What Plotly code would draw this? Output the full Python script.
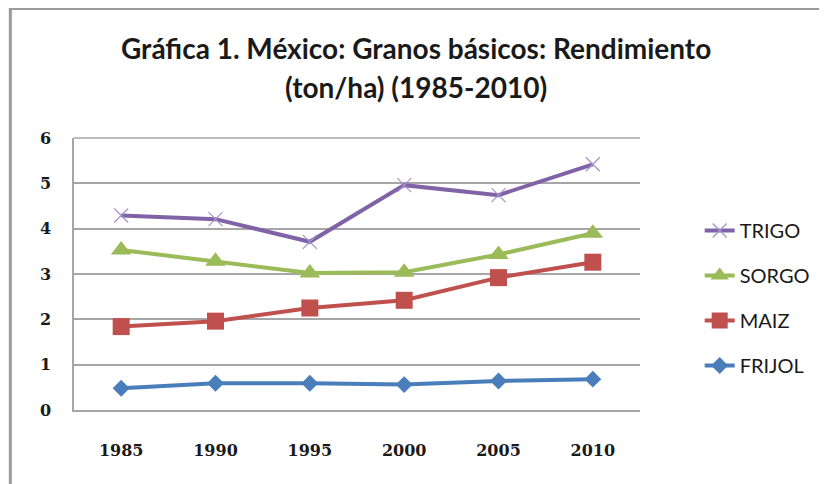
import plotly.graph_objects as go

years = ["1985", "1990", "1995", "2000", "2005", "2010"]
trigo = [4.29, 4.21, 3.71, 4.96, 4.74, 5.42]
sorgo = [3.53, 3.28, 3.02, 3.04, 3.43, 3.90]
maiz = [1.84, 1.96, 2.25, 2.42, 2.92, 3.26]
frijol = [0.48, 0.59, 0.59, 0.56, 0.64, 0.68]
y_ticks = [0, 1, 2, 3, 4, 5, 6]
title_lines = ["Gráfica 1. México: Granos básicos: Rendimiento", "(ton/ha) (1985-2010)"]

# page has an 8px body margin, so the figure is 8px smaller than the window
W, H = 819, 476
L, R, T, B = 66, 184, 130, 74
PW, PH = W - L - R, H - T - B

def px_x(p):
    return (p - L) / PW

def px_y(p):
    return (H - B - p) / PH

fig = go.Figure()

series = [
    ("TRIGO", trigo, "#7F63A6", dict(symbol="x-thin-open", size=14, color="#A593CF", line=dict(width=1.2, color="#A593CF"))),
    ("SORGO", sorgo, "#9BBB59", dict(symbol="triangle-up", size=18, color="#9BBB59")),
    ("MAIZ", maiz, "#C0504D", dict(symbol="square", size=17, color="#C0504D")),
    ("FRIJOL", frijol, "#4A7EBB", dict(symbol="diamond", size=13, color="#4A7EBB")),
]
for i, (name, vals, col, mk) in enumerate(series):
    fig.add_trace(go.Scatter(
        x=years, y=vals, name=name, mode="lines+markers",
        line=dict(color=col, width=4), marker=mk,
        legendgroup=name, legendrank=i + 1,
    ))

grid = "#A6A6A6"
tickfont = dict(family="DejaVu Serif", size=16, color="#1a1a1a", weight="bold")
titlefont = dict(family="Lato", size=28, color="#1a1a1a", weight="bold")
annotations = [
    dict(text=title_lines[0], xref="paper", yref="paper", x=px_x(W / 2), y=px_y(40),
         xanchor="center", yanchor="middle", showarrow=False, font=titlefont),
    dict(text=title_lines[1], xref="paper", yref="paper", x=px_x(W / 2), y=px_y(79),
         xanchor="center", yanchor="middle", showarrow=False, font=titlefont),
]
fig.update_layout(
    width=W, height=H,
    margin=dict(l=L, r=R, t=T, b=B, pad=0),
    paper_bgcolor="white", plot_bgcolor="white",
    annotations=annotations,
    xaxis=dict(
        type="category", range=[-0.5, 5.5], showgrid=False,
        showline=True, linecolor=grid, linewidth=1.5,
        ticks="", ticklabelstandoff=25, tickfont=tickfont,
    ),
    yaxis=dict(
        range=[0, 6], tickvals=y_ticks, showgrid=True, gridcolor=grid, gridwidth=1.5,
        showline=True, linecolor=grid, linewidth=1.5, zeroline=False,
        ticks="", ticklabelstandoff=18, tickfont=tickfont,
    ),
    showlegend=True,
    legend=dict(
        x=px_x(695), xanchor="left", y=px_y(203), yanchor="top",
        font=dict(family="Lato", size=20, color="#1a1a1a"),
        tracegroupgap=16, bgcolor="rgba(0,0,0,0)",
    ),
    shapes=[
        dict(type="line", xref="paper", yref="paper", x0=px_x(2), x1=px_x(2),
             y0=px_y(0), y1=px_y(H + 5), line=dict(color="#9A9A9A", width=3)),
        dict(type="line", xref="paper", yref="paper", x0=px_x(2), x1=px_x(W + 5),
             y0=px_y(0.5), y1=px_y(0.5), line=dict(color="#9A9A9A", width=3)),
        dict(type="line", xref="paper", yref="paper", x0=0, x1=1, y0=1, y1=1,
             line=dict(color=grid, width=1.5), layer="below"),
    ],
)

fig.write_html("out.html")
